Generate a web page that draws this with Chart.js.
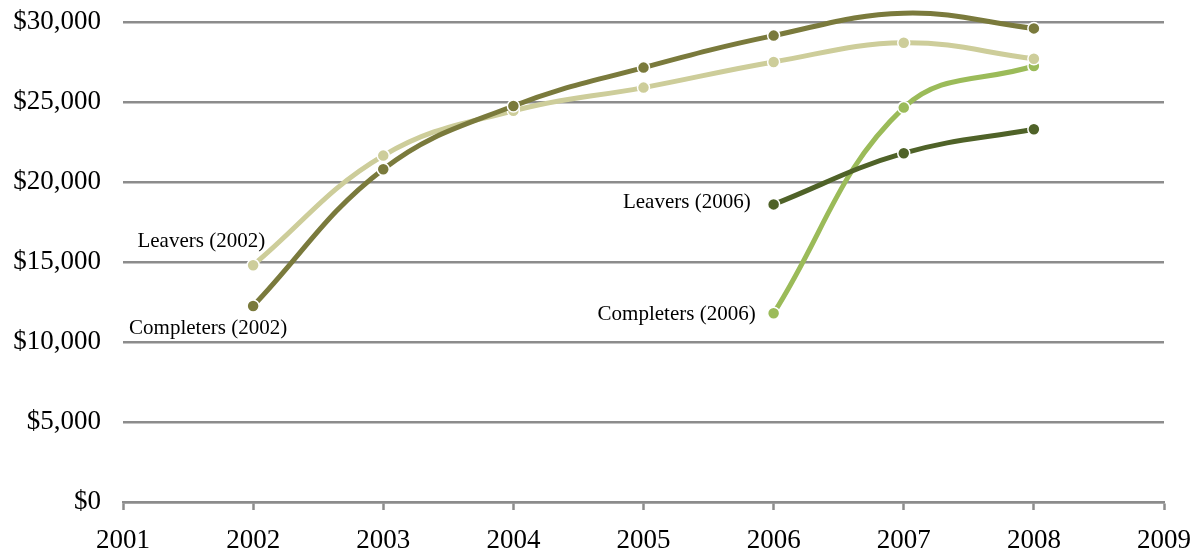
<!DOCTYPE html>
<html lang="en">
<head>
  <meta charset="UTF-8" />
  <title>Earnings by year</title>
  <script src="https://cdn.jsdelivr.net/npm/chart.js"></script>
  <style>
    body { margin: 0; background: #fff; }
    #wrap { width: 1204px; height: 556px; }
  </style>
</head>
<body>
  <div id="wrap"><canvas id="earnings"></canvas></div>
  <script>
    // data
    const years2002 = [2002, 2003, 2004, 2005, 2006, 2007, 2008];
    const years2006 = [2006, 2007, 2008];
    const completers2002 = [12250, 20800, 24750, 27150, 29150, 30550, 29600];
    const leavers2002 = [14800, 21650, 24450, 25900, 27500, 28700, 27700];
    const leavers2006 = [18600, 21800, 23300];
    const completers2006 = [11800, 24650, 27250];
    const seriesNames = ['Completers (2002)', 'Leavers (2002)', 'Leavers (2006)', 'Completers (2006)'];
    const yTicks = [0, 5000, 10000, 15000, 20000, 25000, 30000];

    const grey = '#8c8c8c';
    const serif = "'Liberation Serif', 'DejaVu Serif', serif";

    function pts(xs, ys) {
      return xs.map((x, i) => ({ x, y: ys[i] }));
    }

    function ds(label, data, color) {
      return {
        label,
        data,
        borderColor: color,
        backgroundColor: color,
        borderWidth: 5,
        pointRadius: 6,
        pointBorderColor: '#fff',
        pointBorderWidth: 1.5,
        pointBackgroundColor: color,
        tension: 0.4,
        clip: false
      };
    }

    // where each series name sits next to its first point
    const labelPlace = [
      { dx: 34, dy: 22 },
      { dx: 12, dy: -24 },
      { dx: -23, dy: -2 },
      { dx: -18, dy: 1 }
    ];

    const seriesLabels = {
      id: 'seriesLabels',
      afterDatasetsDraw(chart) {
        const ctx = chart.ctx;
        ctx.save();
        ctx.font = '21px ' + serif;
        ctx.fillStyle = '#000';
        ctx.textAlign = 'right';
        ctx.textBaseline = 'middle';
        chart.data.datasets.forEach((d, i) => {
          const p = chart.getDatasetMeta(i).data[0];
          ctx.fillText(d.label, p.x + labelPlace[i].dx, p.y + labelPlace[i].dy);
        });
        ctx.restore();
      }
    };

    new Chart(document.getElementById('earnings'), {
      type: 'line',
      data: {
        datasets: [
          ds(seriesNames[0], pts(years2002, completers2002), '#7a7a3c'),
          ds(seriesNames[1], pts(years2002, leavers2002), '#cdcd9a'),
          ds(seriesNames[2], pts(years2006, leavers2006), '#4f6228'),
          ds(seriesNames[3], pts(years2006, completers2006), '#9bbb59')
        ]
      },
      options: {
        responsive: true,
        maintainAspectRatio: false,
        animation: false,
        layout: { padding: { top: 22, right: 40, left: 0, bottom: 0 } },
        plugins: {
          legend: { display: false },
          tooltip: { enabled: false }
        },
        scales: {
          x: {
            type: 'linear',
            min: 2001,
            max: 2009,
            ticks: {
              stepSize: 1,
              color: '#000',
              font: { family: serif, size: 27 },
              padding: 15,
              maxRotation: 0,
              callback: v => String(v)
            },
            grid: {
              drawOnChartArea: false,
              drawTicks: true,
              tickLength: 8,
              tickWidth: 2.5,
              tickColor: grey
            },
            border: { display: true, color: grey, width: 2.5 },
            afterFit: s => { s.height = 54; s.paddingLeft = 0; s.paddingRight = 0; }
          },
          y: {
            min: 0,
            max: 30000,
            afterBuildTicks: s => { s.ticks = yTicks.map(v => ({ value: v })); },
            ticks: {
              color: '#000',
              font: { family: serif, size: 27 },
              padding: 22,
              callback: v => '$' + v.toLocaleString('en-US')
            },
            grid: { color: grey, lineWidth: 2.5, drawTicks: false },
            border: { display: false },
            afterFit: s => { s.width = 123; s.paddingTop = 0; s.paddingBottom = 0; }
          }
        }
      },
      plugins: [seriesLabels]
    });
  </script>
</body>
</html>
